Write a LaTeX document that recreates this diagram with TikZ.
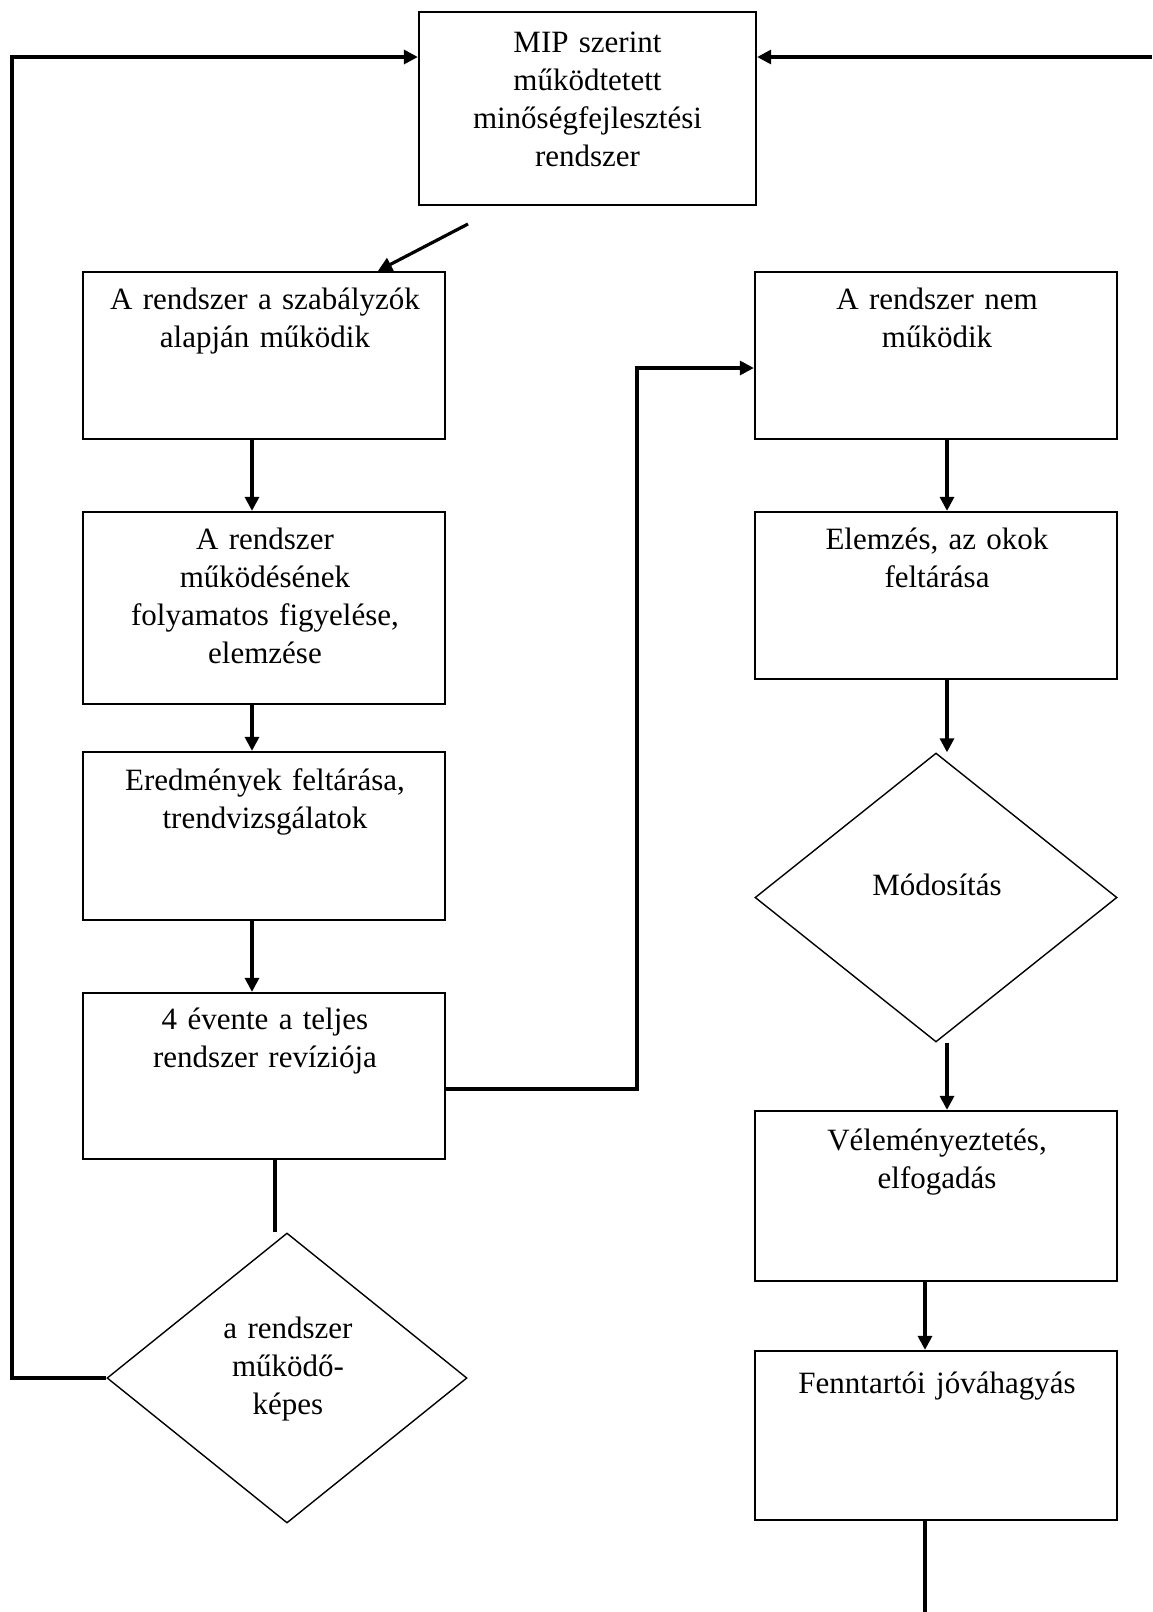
\documentclass[tikz,border=0pt]{standalone}
\usepackage{fontspec}
\setmainfont{Liberation Serif}
\usetikzlibrary{shapes.geometric,arrows.meta,calc}
\begin{document}
\begin{tikzpicture}[x=1pt,y=-1pt,
  box/.style={draw,line width=2.3pt,rectangle,inner sep=0pt},
  dia/.style={draw,line width=1.4pt,diamond,inner sep=0pt},
  txt/.style={font=\fontsize{31}{38}\selectfont,align=center,text width=350pt,anchor=base,inner sep=0pt},
  con/.style={line width=3.2pt},
  arr/.style={con,-{Triangle[length=14pt,width=14pt]}}]
\useasboundingbox[fill=white] (0,0) rectangle (1152,1612);
% boxes
\node[box,minimum width=337pt,minimum height=193pt] (top) at (587.5,108.5) {};
\node[box,minimum width=362pt,minimum height=167pt] (L1) at (264,355.5) {};
\node[box,minimum width=362pt,minimum height=192pt] (L2) at (264,608) {};
\node[box,minimum width=362pt,minimum height=168pt] (L3) at (264,836) {};
\node[box,minimum width=362pt,minimum height=166pt] (L4) at (264,1076) {};
\node[dia,minimum width=360pt,minimum height=290pt] (dL) at (287,1378) {};
\node[box,minimum width=362pt,minimum height=167pt] (R1) at (936,355.5) {};
\node[box,minimum width=362pt,minimum height=167pt] (R2) at (936,595.5) {};
\node[dia,minimum width=362pt,minimum height=289pt] (dR) at (936,897.5) {};
\node[box,minimum width=362pt,minimum height=170pt] (R3) at (936,1196) {};
\node[box,minimum width=362pt,minimum height=169pt] (R4) at (936,1435.5) {};
% texts
\node[txt] (tTop) at (587.5,52) {MIP szerint\\működtetett\\minőségfejlesztési\\rendszer};
\node[txt] (tL1) at (265,309) {A rendszer a szabályzók\\alapján működik};
\node[txt] (tL2) at (265,549) {A rendszer\\működésének\\folyamatos figyelése,\\elemzése};
\node[txt] (tL3) at (265,790) {Eredmények feltárása,\\trendvizsgálatok};
\node[txt] (tL4) at (265,1029) {4 évente a teljes\\rendszer revíziója};
\node[txt] (tdL) at (288,1338) {a rendszer\\működő-\\képes};
\node[txt] (tR1) at (937,309) {A rendszer nem\\működik};
\node[txt] (tR2) at (937,549) {Elemzés, az okok\\feltárása};
\node[txt] (tdR) at (937,895) {Módosítás};
\node[txt] (tR3) at (937,1150) {Véleményeztetés,\\elfogadás};
\node[txt] (tR4) at (937,1393) {Fenntartói jóváhagyás};
% coordinates
\coordinate (diagStart) at (468,224);
\coordinate (leftX) at (12,0);
\coordinate (rightEnd) at (1152,57);
\coordinate (midX) at (637,0);
\coordinate (bottomEnd) at (925,1612);
\coordinate (R1in) at ([yshift=-12.5pt]R1.west);
\coordinate (L4out) at ([yshift=-13pt]L4.east);
% connectors
\draw[arr] (diagStart) -- ([xshift=114pt]L1.north);
\draw[arr] ([xshift=-12pt]L1.south) -- ([xshift=-12pt]L2.north);
\draw[arr] ([xshift=-12pt]L2.south) -- ([xshift=-12pt]L3.north);
\draw[arr] ([xshift=-12pt]L3.south) -- ([xshift=-12pt]L4.north);
\draw[con] ([xshift=11pt]L4.south) -- ([xshift=11pt]L4.south |- dL.north);
\draw[arr] (dL.west) -| (leftX |- rightEnd) -- (top.west |- rightEnd);
\draw[arr] (rightEnd) -- (top.east |- rightEnd);
\draw[arr] (L4out) -| (midX |- R1in) -- (R1in);
\draw[arr] ([xshift=11pt]R1.south) -- ([xshift=11pt]R2.north);
\draw[arr] ([xshift=11pt]R2.south) -- ([xshift=11pt]R2.south |- dR.north);
\draw[arr] ([xshift=11pt]R2.south |- dR.south) -- ([xshift=11pt]R3.north);
\draw[arr] ([xshift=-11pt]R3.south) -- ([xshift=-11pt]R4.north);
\draw[con] ([xshift=-11pt]R4.south) -- (bottomEnd);
\end{tikzpicture}
\end{document}
